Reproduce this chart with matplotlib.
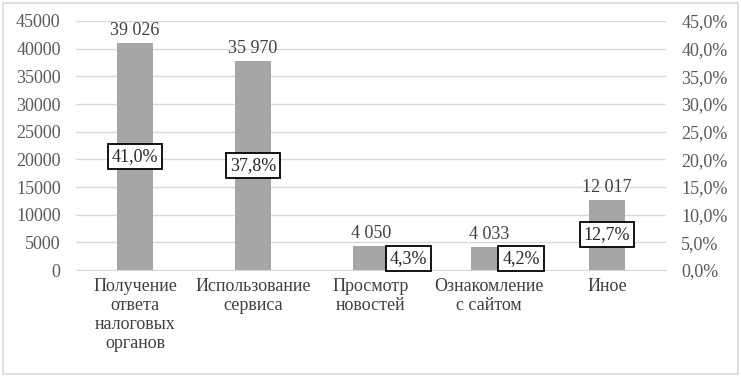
import matplotlib
matplotlib.use("Agg")
import matplotlib.pyplot as plt
from matplotlib.patches import Rectangle

categories = ["Получение\nответа\nналоговых\nорганов", "Использование\nсервиса",
              "Просмотр\nновостей", "Ознакомление\nс сайтом", "Иное"]
counts = [39026, 35970, 4050, 4033, 12017]
count_labels = ["39 026", "35 970", "4 050", "4 033", "12 017"]
percents = [41.0, 37.8, 4.3, 4.2, 12.7]
pct_labels = ["41,0%", "37,8%", "4,3%", "4,2%", "12,7%"]
left_ticks = [0, 5000, 10000, 15000, 20000, 25000, 30000, 35000, 40000, 45000]
right_ticks = [0, 5, 10, 15, 20, 25, 30, 35, 40, 45]

plt.rcParams['font.family'] = ['Liberation Serif', 'DejaVu Serif']
FS = 13
txt = '#404040'

fig = plt.figure(figsize=(7.41, 3.77), dpi=100)
fig.patches.append(Rectangle((0.004, 0.008), 0.992, 0.984, transform=fig.transFigure,
                             fill=False, edgecolor='#d9d9d9', lw=1.2))
ax = fig.add_axes([0.1026, 0.2838, 0.7962, 0.6605])
ax2 = ax.twinx()

x = list(range(len(categories)))
ax.set_xlim(-0.5, len(categories) - 0.5)
ax.set_ylim(0, 45000)
ax2.set_ylim(0, 45)
ax.set_yticks(left_ticks)
ax.set_yticklabels([str(v) for v in left_ticks])
ax2.set_yticks(right_ticks)
ax2.set_yticklabels([f"{v:.1f}%".replace('.', ',') for v in right_ticks])
ax.grid(axis='y', color='#d9d9d9', lw=1)
ax.set_axisbelow(True)

bars = ax2.bar(x, percents, width=0.30, color='#a6a6a6', zorder=2)

for a in (ax, ax2):
    for s in a.spines.values():
        s.set_visible(False)
    a.tick_params(length=0, labelsize=FS, labelcolor='#595959')
ax.spines['bottom'].set_visible(True)
ax.spines['bottom'].set_color('#d9d9d9')
ax.tick_params(axis='y', pad=11)
ax2.tick_params(axis='y', pad=11)
ax.set_xticks(x)
ax.set_xticklabels(categories, fontsize=FS, color='#404040', linespacing=1.15)
ax.tick_params(axis='x', pad=6)

for xi, p, cl in zip(x, percents, count_labels):
    ax2.annotate(cl, (xi, p), xytext=(0, 3), textcoords='offset points',
                 ha='center', va='bottom', fontsize=FS, color=txt)

offsets = [0, 0, 27, 23, 0]
for xi, p, pl, off in zip(x, percents, pct_labels, offsets):
    ax2.annotate(pl, (xi, p / 2), xytext=(off, 0), textcoords='offset points',
                 ha='center', va='center', fontsize=FS, color='#262626', zorder=5,
                 bbox=dict(boxstyle='square,pad=0.22', fc='white', ec='black', lw=1.3))

fig.savefig('out.png', dpi=100)
